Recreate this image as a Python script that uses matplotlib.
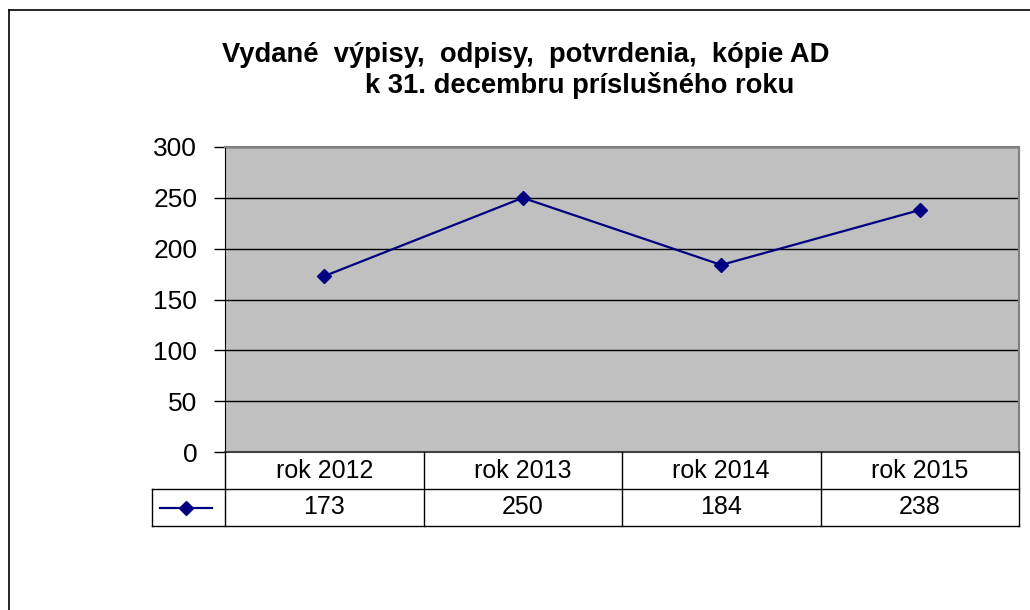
import matplotlib
matplotlib.use("Agg")
import matplotlib.pyplot as plt
from matplotlib.lines import Line2D

plt.rcParams['font.family'] = ['Liberation Sans', 'DejaVu Sans']

# data
roky = ['rok 2012', 'rok 2013', 'rok 2014', 'rok 2015']
hodnoty = [173, 250, 184, 238]
y_ticks = [0, 50, 100, 150, 200, 250, 300]

W, H = 1030, 610
fig = plt.figure(figsize=(W / 100, H / 100), dpi=100)

def fx(px):
    return px / W

def fy(py):
    return 1 - py / H

# outer frame (cut off at right and bottom)
fig.add_artist(Line2D([fx(9), fx(9)], [fy(10), 0], color='black', lw=1.2))
fig.add_artist(Line2D([fx(9), 1], [fy(10), fy(10)], color='black', lw=1.2))

ax_l, ax_r, ax_t, ax_b = 225, 1019, 147, 452
ax = fig.add_axes([fx(ax_l), fy(ax_b), fx(ax_r - ax_l), fy(ax_t) - fy(ax_b)])
ax.set_facecolor('#C0C0C0')

x = list(range(len(roky)))
ax.plot(x, hodnoty, color='#000080', lw=1.6, marker='D', markersize=7,
        markerfacecolor='#000080', markeredgecolor='#000080', zorder=3)

ax.set_xlim(-0.5, len(roky) - 0.5)
ax.set_ylim(0, 300)
ax.set_yticks(y_ticks)
ax.set_yticklabels([str(v) for v in y_ticks], fontsize=19)
ax.set_xticks([])
ax.yaxis.grid(True, color='black', lw=1)
ax.set_axisbelow(True)
ax.tick_params(axis='y', direction='out', length=8, width=1, pad=12, color='black')
for s in ['top', 'right']:
    ax.spines[s].set_color('#808080')
    ax.spines[s].set_linewidth(1.5)
ax.spines['left'].set_color('black')
ax.spines['bottom'].set_color('#404040')
ax.spines['bottom'].set_linewidth(1.5)

# data table under the plot
row_h = 37
r1 = ax_b + row_h
r2 = ax_b + 2 * row_h
col_w = (ax_r - ax_l) / len(roky)
leg_l = 152
lc = dict(color='black', lw=1)
for i in range(len(roky) + 1):
    xp = ax_l + i * col_w
    fig.add_artist(Line2D([fx(xp), fx(xp)], [fy(ax_b), fy(r2)], **lc))
fig.add_artist(Line2D([fx(leg_l), fx(ax_r)], [fy(r1), fy(r1)], **lc))
fig.add_artist(Line2D([fx(leg_l), fx(ax_r)], [fy(r2), fy(r2)], **lc))
fig.add_artist(Line2D([fx(leg_l), fx(leg_l)], [fy(r1), fy(r2)], **lc))

for i, (rok, v) in enumerate(zip(roky, hodnoty)):
    cx = ax_l + (i + 0.5) * col_w
    fig.text(fx(cx), fy(ax_b + row_h / 2), rok, ha='center', va='center', fontsize=18)
    fig.text(fx(cx), fy(r1 + row_h / 2), str(v), ha='center', va='center', fontsize=18)

# legend key
ky = fy(r1 + row_h / 2)
fig.add_artist(Line2D([fx(160), fx(212)], [ky, ky], color='#000080', lw=1.6))
fig.add_artist(Line2D([fx(186)], [ky], color='#000080', marker='D', markersize=7,
                      markerfacecolor='#000080', markeredgecolor='#000080'))

# title
fig.text(fx(526), fy(62), 'Vydané  výpisy,  odpisy,  potvrdenia,  kópie AD',
         ha='center', va='baseline', fontsize=19.7, fontweight='bold')
fig.text(fx(580), fy(93), 'k 31. decembru príslušného roku',
         ha='center', va='baseline', fontsize=19.7, fontweight='bold')

fig.savefig('out.png', dpi=100)
